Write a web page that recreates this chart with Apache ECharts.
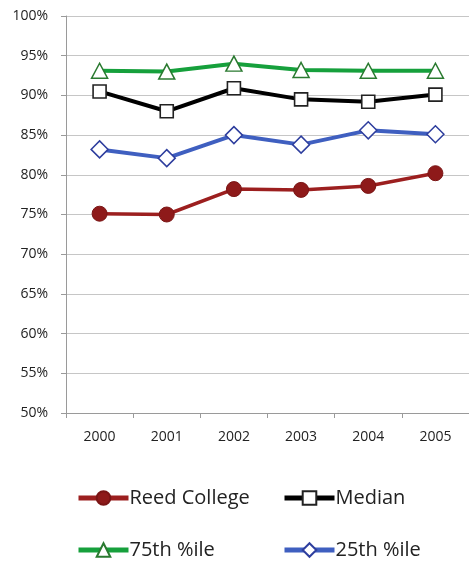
<!DOCTYPE html>
<html><head><meta charset="utf-8">
<script src="https://cdn.jsdelivr.net/npm/echarts@6/dist/echarts.min.js"></script>
<style>html,body{margin:0;padding:0;background:#fff}#c{width:469px;height:563px}</style>
</head><body><div id="c"></div>
<script>
var years = ['2000','2001','2002','2003','2004','2005'];
var reed = [75.1, 75.0, 78.2, 78.1, 78.6, 80.2];
var median = [90.5, 88.0, 90.9, 89.5, 89.2, 90.1];
var p75 = [93.1, 93.0, 94.0, 93.2, 93.1, 93.1];
var p25 = [83.2, 82.1, 85.0, 83.8, 85.6, 85.1];
var yTicks = [50, 55, 60, 65, 70, 75, 80, 85, 90, 95, 100];

var chart = echarts.init(document.getElementById('c'), null, {renderer:'canvas'});
var font = 'Open Sans, Liberation Sans, sans-serif';
function leg(name, left, top){
  return {data:[name], left:left, top:top, itemWidth:50, itemHeight:17, itemGap:0,
    lineStyle:{width:5},
    textStyle:{fontSize:20, color:'#222', fontFamily:font, padding:[0,0,0,-4]}, padding:0};
}
chart.setOption({
  animation:false,
  grid:{left:66, top:16, width:405, height:397, containLabel:false},
  legend:[leg('Reed College',76,488), leg('Median',282,488), leg('75th %ile',76,540), leg('25th %ile',282,540)],
  xAxis:{type:'category', data:years, boundaryGap:true,
    axisLine:{lineStyle:{color:'#9a9a9a', width:1}},
    axisTick:{show:true, length:5, inside:false, lineStyle:{color:'#9a9a9a'}},
    axisLabel:{fontSize:14, color:'#222', margin:17, fontFamily:font}},
  yAxis:{type:'value', min:50, max:100, interval:5,
    axisLine:{show:true, lineStyle:{color:'#9a9a9a'}},
    axisTick:{show:true, length:5, lineStyle:{color:'#9a9a9a'}},
    splitLine:{lineStyle:{color:'#c6c6c6', width:1}},
    axisLabel:{fontSize:14, color:'#222', margin:18, fontFamily:font,
      formatter:function(v){return yTicks.indexOf(v)>=0 ? v+'%' : '';}}},
  series:[
    {name:'Reed College', type:'line', data:reed, symbol:'circle', symbolSize:15,
      lineStyle:{color:'#9c1f1f', width:3.5}, itemStyle:{color:'#8e1a1a', borderColor:'#7a1515', borderWidth:1}, z:5},
    {name:'Median', type:'line', data:median, symbol:'rect', symbolSize:13,
      lineStyle:{color:'#000', width:4}, itemStyle:{color:'#fff', borderColor:'#222', borderWidth:1.6}, z:4},
    {name:'75th %ile', type:'line', data:p75, symbol:'triangle', symbolSize:[16,15],
      lineStyle:{color:'#16a03c', width:4}, itemStyle:{color:'#fff', borderColor:'#2a7a30', borderWidth:1.5}, z:3},
    {name:'25th %ile', type:'line', data:p25, symbol:'diamond', symbolSize:[17,17],
      lineStyle:{color:'#3f5fc0', width:4}, itemStyle:{color:'#fff', borderColor:'#2e3e9e', borderWidth:1.5}, z:3}
  ]
});
</script></body></html>
